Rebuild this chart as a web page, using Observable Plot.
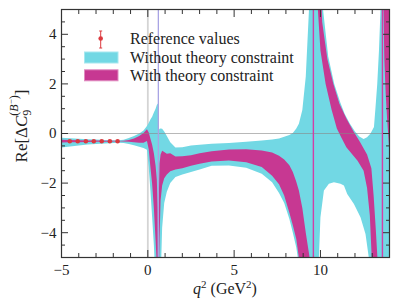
<!DOCTYPE html>
<html><head><meta charset="utf-8">
<script src="https://cdn.jsdelivr.net/npm/d3@7"></script>
<script src="https://cdn.jsdelivr.net/npm/@observablehq/plot@0.6"></script>
<style>
html,body{margin:0;padding:0;background:#fff}
svg{font-family:"Liberation Serif",serif}
</style>
</head><body><div id="chart"></div>
<script>
// ---------- data ----------
const refX   = [-4.52, -4.06, -3.59, -3.13, -2.67, -2.2, -1.75];
const refY   = [-0.31, -0.31, -0.31, -0.31, -0.31, -0.31, -0.31];
const refErr = [0.03, 0.03, 0.03, 0.03, 0.03, 0.03, 0.03];

// resonance positions (q^2, GeV^2)
const lightRes = [0.61];
const charmRes = [9.59, 13.59];

// segment A: -5 .. 0.6
const aX       = [-5, -4.5, -4, -3.5, -3, -2.5, -2, -1.7, -1.4, -1.1, -0.8, -0.5, -0.25, -0.05, 0.05, 0.15, 0.25, 0.35, 0.45, 0.52, 0.57, 0.6];
const cyanA_hi = [-0.17, -0.19, -0.21, -0.23, -0.245, -0.26, -0.27, -0.27, -0.25, -0.18, -0.1, 0.0, 0.12, 0.3, 0.42, 0.56, 0.68, 0.85, 1.0, 1.15, 1.2, 1.2];
const cyanA_lo = [-0.56, -0.52, -0.48, -0.44, -0.42, -0.4, -0.38, -0.37, -0.38, -0.42, -0.47, -0.53, -0.58, -0.66, -1.35, -2.3, -3.38, -4.5, -6, -8, -10, -12];
const magA_hi  = [-0.25, -0.26, -0.27, -0.28, -0.285, -0.29, -0.295, -0.3, -0.29, -0.26, -0.2, -0.1, 0.02, 0.17, 0.05, -0.2, -0.45, -0.8, -1.3, -1.85, -3.0, -7];
const magA_lo  = [-0.36, -0.355, -0.35, -0.34, -0.335, -0.33, -0.32, -0.315, -0.32, -0.33, -0.35, -0.37, -0.37, -0.3, -0.62, -1.35, -2.03, -3.0, -4.3, -5.3, -8, -12];

// segment B: 0.6 .. 9.59
const bX       = [0.6, 0.64, 0.68, 0.74, 0.83, 0.95, 1.1, 1.3, 1.6, 2.0, 2.5, 3.0, 3.7, 4.7, 5.7, 6.6, 7.2, 7.6, 7.9, 8.2, 8.4, 8.6, 8.75, 8.95, 9.15, 9.35, 9.45, 9.6];
const cyanB_hi = [0.1, 0.15, 0.19, 0.2, 0.19, 0.08, -0.1, -0.35, -0.56, -0.55, -0.48, -0.45, -0.41, -0.38, -0.33, -0.28, -0.24, -0.2, -0.13, -0.06, 0.02, 0.2, 0.39, 0.95, 2.3, 5.2, 9, 20];
const cyanB_lo = [-20, -14, -9, -6, -3.8, -2.8, -2.35, -2.0, -1.75, -1.65, -1.55, -1.45, -1.3, -1.29, -1.38, -1.62, -1.97, -2.4, -2.8, -3.45, -4.0, -4.6, -5.3, -6.5, -8, -10, -12, -20];
const magB_hi  = [-6, -2.5, -1.2, -0.85, -0.7, -0.75, -0.82, -0.8, -0.93, -0.92, -0.88, -0.8, -0.72, -0.65, -0.64, -0.69, -0.77, -0.9, -1.05, -1.28, -1.55, -1.95, -2.3, -3.0, -4.0, -4.9, -5.6, -9];
const magB_lo  = [-12, -6, -4.2, -2.7, -2.1, -1.8, -1.65, -1.52, -1.45, -1.4, -1.3, -1.22, -1.13, -1.09, -1.16, -1.35, -1.7, -2.05, -2.5, -3.2, -3.7, -4.25, -5.0, -6.2, -7.5, -9, -10, -14];

// segment C: 9.59 .. 13.59 (edges sampled separately)
const cyanC_upX = [9.58, 9.95, 10.15, 10.45, 10.8, 11.15, 11.4, 11.7, 12.0, 12.25, 12.5, 12.7, 12.9, 13.1, 13.19, 13.29, 13.39, 13.48, 13.6];
const cyanC_upY = [40, 10, 5, 3.1, 2.0, 1.25, 0.8, 0.4, 0.08, -0.12, -0.22, -0.15, 0.0, 0.26, 1.06, 2.0, 3.35, 5, 40];
const cyanC_loX = [9.58, 9.91, 10.0, 10.2, 10.49, 10.78, 11.16, 11.36, 11.55, 11.94, 12.32, 12.61, 12.8, 13.6];
const cyanC_loY = [-40, -5, -3.38, -2.3, -2.03, -1.97, -2.03, -2.1, -2.44, -2.84, -3.38, -4.05, -5, -40];
const magC_upX  = [9.62, 9.9, 10.1, 10.4, 10.75, 11.1, 11.5, 11.9, 12.3, 12.7, 12.95, 13.08, 13.2, 13.3, 13.45, 13.57];
const magC_upY  = [40, 9, 4.5, 3.0, 2.0, 1.2, 0.6, 0.1, -0.35, -0.85, -1.4, -2.5, -3.8, -5, -8, -30];
const magC_loX  = [9.62, 9.75, 9.85, 10.0, 10.3, 10.65, 10.95, 11.2, 11.5, 12.15, 12.5, 12.7, 12.86, 12.97, 13.05, 13.57];
const magC_loY  = [60, 7, 5, 3.35, 2.0, 0.95, 0.2, -0.15, -0.55, -1.1, -1.5, -2.2, -3.3, -5, -7, -40];

// segment D: 13.59 .. 14
const cyanD_upX = [13.58, 14.0];
const cyanD_upY = [40, 40];
const cyanD_loX = [13.58, 14.0];
const cyanD_loY = [-40, -40];
const magD_upX  = [13.61, 14.0];
const magD_upY  = [40, 30];
const magD_loX  = [13.61, 13.64, 13.7, 13.78, 13.86, 13.93, 14.0];
const magD_loY  = [30, 5.5, 3.0, 1.6, 0.6, -0.1, -0.8];

const xMajor = [-5, 0, 5, 10];
const xMinor = [-4, -3, -2, -1, 1, 2, 3, 4, 6, 7, 8, 9, 11, 12, 13, 14];
const yMajor = [-4, -2, 0, 2, 4];
const yMinor = [-5, -4.5, -3.5, -3, -2.5, -1.5, -1, -0.5, 0.5, 1, 1.5, 2.5, 3, 3.5, 4.5, 5];

const legendLabels = ["Reference values", "Without theory constraint", "With theory constraint"];

// ---------- styles ----------
const CYAN = "#72d8e4", MAG = "#c73892", RED = "#dc3a3f", INK = "#222";

function poly(seg, ux, uy, lx, ly) {
  const rows = [];
  ux.forEach((x, i) => rows.push({seg, x, y: uy[i]}));
  for (let i = lx.length - 1; i >= 0; i--) rows.push({seg, x: lx[i], y: ly[i]});
  return rows;
}
const cyanPoly = [
  ...poly("A", aX, cyanA_hi, aX, cyanA_lo),
  ...poly("B", bX, cyanB_hi, bX, cyanB_lo),
  ...poly("C", cyanC_upX, cyanC_upY, cyanC_loX, cyanC_loY),
  ...poly("D", cyanD_upX, cyanD_upY, cyanD_loX, cyanD_loY)
];
const magPoly = [
  ...poly("A", aX, magA_hi, aX, magA_lo),
  ...poly("B", bX, magB_hi, bX, magB_lo),
  ...poly("C", magC_upX, magC_upY, magC_loX, magC_loY),
  ...poly("D", magD_upX, magD_upY, magD_loX, magD_loY)
];
const refRows = refX.map((x, i) => ({x, y: refY[i], lo: refY[i] - refErr[i], hi: refY[i] + refErr[i]}));

const tickStyle = {stroke: "#333", strokeWidth: 1};
const chart = Plot.plot({
  width: 399, height: 308,
  marginLeft: 61, marginRight: 10, marginTop: 9, marginBottom: 51,
  style: {fontFamily: "Liberation Serif, serif", fontSize: "15px", color: INK, background: "#fff"},
  x: {domain: [-5, 14], label: null, axis: null},
  y: {domain: [-5, 5], label: null, axis: null},
  marks: [
    Plot.ruleX([0], {stroke: "#d4d4d4", strokeWidth: 1.8}),
    Plot.line(cyanPoly, {x: "x", y: "y", z: "seg", fill: CYAN, stroke: "none", clip: true}),
    Plot.line(magPoly, {x: "x", y: "y", z: "seg", fill: MAG, stroke: "none", clip: true}),
    Plot.ruleY([0], {stroke: "#888", strokeWidth: 0.8, strokeOpacity: 0.75}),
    Plot.ruleX(lightRes, {stroke: "#a9a4e4", strokeWidth: 1.3}),
    Plot.ruleX(charmRes, {stroke: "#d23ea6", strokeWidth: 1.4}),
    Plot.ruleX(refRows, {x: "x", y1: "lo", y2: "hi", stroke: RED, strokeWidth: 1}),
    Plot.dot(refRows, {x: "x", y: "y", r: 2.3, fill: RED, stroke: "none"}),
    // tick labels
    Plot.axisX({anchor: "bottom", ticks: xMajor, tickSize: 0, tickPadding: 7, fill: INK, fontSize: 15}),
    Plot.axisY({anchor: "left", ticks: yMajor, tickSize: 0, tickPadding: 5, fill: INK, fontSize: 15}),
    // inward ticks on all four sides
    Plot.axisX({anchor: "bottom", ticks: xMajor, tickSize: -7, fill: "none", ...tickStyle}),
    Plot.axisX({anchor: "bottom", ticks: xMinor, tickSize: -4, fill: "none", ...tickStyle}),
    Plot.axisX({anchor: "top", ticks: xMajor, tickSize: -7, fill: "none", ...tickStyle}),
    Plot.axisX({anchor: "top", ticks: xMinor, tickSize: -4, fill: "none", ...tickStyle}),
    Plot.axisY({anchor: "left", ticks: yMajor, tickSize: -7, fill: "none", ...tickStyle}),
    Plot.axisY({anchor: "left", ticks: yMinor, tickSize: -4, fill: "none", ...tickStyle}),
    Plot.axisY({anchor: "right", ticks: yMajor, tickSize: -7, fill: "none", ...tickStyle}),
    Plot.axisY({anchor: "right", ticks: yMinor, tickSize: -4, fill: "none", ...tickStyle}),
    Plot.frame({stroke: "#333", strokeWidth: 1.2})
  ]
});
document.getElementById("chart").appendChild(chart);

// ---------- axis titles and legend (text) ----------
const svg = d3.select(chart);
const xl = svg.append("text").attr("x", 225).attr("y", 294).attr("text-anchor", "middle")
  .attr("font-size", 16).attr("fill", INK);
xl.append("tspan").attr("font-style", "italic").text("q");
xl.append("tspan").attr("dy", -6).attr("font-size", 11).text("2");
xl.append("tspan").attr("dy", 6).text("\u00a0(GeV");
xl.append("tspan").attr("dy", -6).attr("font-size", 11).text("2");
xl.append("tspan").attr("dy", 6).text(")");

const yl = svg.append("text").attr("transform", "translate(27,126) rotate(-90)")
  .attr("text-anchor", "middle").attr("font-size", 17).attr("fill", INK);
yl.append("tspan").text("Re[\u0394");
yl.append("tspan").attr("font-style", "italic").text("C");
yl.append("tspan").attr("dy", 4).attr("font-size", 12).text("9");
yl.append("tspan").attr("dx", -6).attr("dy", -13).attr("font-size", 12).text("(");
yl.append("tspan").attr("font-style", "italic").attr("font-size", 12).text("B");
yl.append("tspan").attr("dy", -4).attr("font-size", 9).text("\u2212");
yl.append("tspan").attr("dy", 4).attr("font-size", 12).text(")");
yl.append("tspan").attr("dy", 9).text("]");

const lg = svg.append("g").attr("text-anchor", "start");
// error-bar glyph
lg.append("line").attr("x1", 100.7).attr("x2", 100.7).attr("y1", 31).attr("y2", 48).attr("stroke", RED).attr("stroke-width", 1);
lg.append("line").attr("x1", 99.2).attr("x2", 102.2).attr("y1", 31).attr("y2", 31).attr("stroke", RED).attr("stroke-width", 1);
lg.append("line").attr("x1", 99.2).attr("x2", 102.2).attr("y1", 48).attr("y2", 48).attr("stroke", RED).attr("stroke-width", 1);
lg.append("circle").attr("cx", 100.7).attr("cy", 38.5).attr("r", 2.3).attr("fill", RED);
lg.append("rect").attr("x", 84.5).attr("y", 52).attr("width", 33.5).attr("height", 11)
  .attr("fill", CYAN).attr("stroke", "#a6e8ef").attr("stroke-width", 1);
lg.append("rect").attr("x", 84.5).attr("y", 69.8).attr("width", 33.5).attr("height", 11)
  .attr("fill", MAG).attr("stroke", "#e08cc0").attr("stroke-width", 1);
const ys = [44, 62.8, 81.3];
legendLabels.forEach((t, i) => {
  lg.append("text").attr("x", 130).attr("y", ys[i]).attr("text-anchor", "start")
    .attr("font-size", 16).attr("fill", INK).text(t);
});
</script>
</body></html>
